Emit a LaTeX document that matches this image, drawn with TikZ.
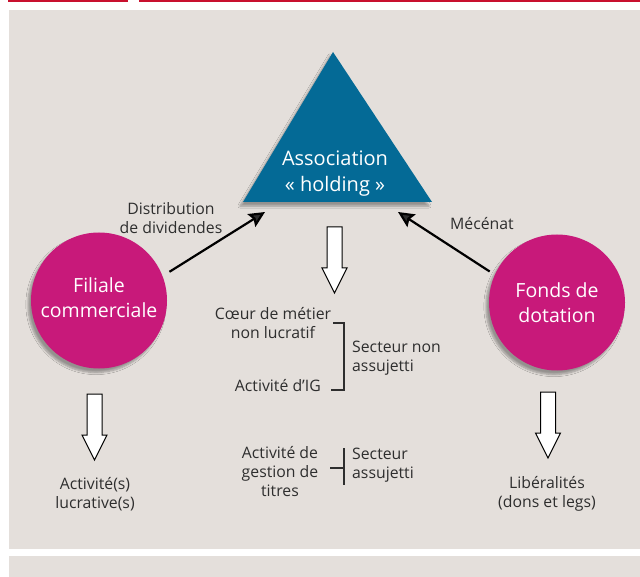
\documentclass[tikz,border=0pt]{standalone}
\usepackage{fontspec}
\setmainfont{Open Sans}
\usetikzlibrary{arrows.meta,shadows.blur}
\definecolor{panel}{HTML}{E4DFDB}
\definecolor{topred}{HTML}{C8102E}
\definecolor{triblue}{HTML}{046A96}
\definecolor{magent}{HTML}{C8197A}
\definecolor{txt}{HTML}{2E2E2E}
\tikzset{
  lbl/.style={font=\fontsize{15.8}{19}\selectfont, text=txt, inner sep=0pt, align=center},
  circ/.style={circle, fill=magent, minimum size=136pt, inner sep=0pt,
    blur shadow={shadow xshift=-3pt, shadow yshift=-4pt, shadow blur steps=6, shadow opacity=35}},
  intext/.style={text=white, align=center, inner sep=0pt, font=\fontsize{19.5}{25}\selectfont},
  conn/.style={line width=2.2pt, -{Stealth[length=16pt,width=15pt,inset=2.5pt]}},
  brk/.style={line width=1.2pt, txt},
  hollow/.style={draw=black, fill=white, line width=1pt, line join=miter}
}
\newcommand{\hollowarrow}[2]{% x, top y
  \draw[hollow] (#1-7.5,#2) -- (#1+7.5,#2) -- (#1+7.5,#2+41) -- (#1+12.5,#2+41) -- (#1,#2+66)
   -- (#1-12.5,#2+41) -- (#1-7.5,#2+41) -- cycle;}
\begin{document}
\begin{tikzpicture}[x=1pt,y=-1pt]
\useasboundingbox (0,0) rectangle (640,577);
\fill[white] (0,0) rectangle (640,577);
\fill[topred] (8,0) rectangle (128,2);
\fill[topred] (139,0) rectangle (640,2);
\fill[panel] (9,10) rectangle (640,549);
\fill[panel] (9,556) rectangle (640,577);
% triangle
\fill[triblue, blur shadow={shadow xshift=-3pt, shadow yshift=-4pt, shadow blur steps=6, shadow opacity=35}]
  (333,52) -- (432,202) -- (243,202) -- cycle;
\node[intext, font=\fontsize{20}{26}\selectfont] (assoc) at (335,174) {Association\\« holding »};
\coordinate (tipL) at (265,212);
\coordinate (tipR) at (398,212);
% circles
\node[circ] (fil) at (99,300.5) {};
\node[intext] (filtxt) at (99,297.5) {Filiale\\commerciale};
\node[circ] (fon) at (557,302.5) {};
\node[intext] (fontxt) at (557,303) {Fonds de\\dotation};
% connectors
\draw[conn, shorten <=8pt] (fil.21) -- (tipL);
\draw[conn, shorten <=6pt] (fon.156) -- (tipR);
\node[lbl] (dist) at (171,218) {Distribution\\de dividendes};
\node[lbl] (mec) at (482,224) {Mécénat};
% hollow arrows
\hollowarrow{334.5}{227}
\hollowarrow{94.5}{394}
\hollowarrow{548}{392}
% bottom labels
\node[lbl] (act) at (95,494) {Activité(s)\\lucrative(s)};
\node[lbl] (lib) at (547,494) {Libéralités\\(dons et legs)};
% middle block
\node[lbl] (coeur) at (273,323.5) {Cœur de métier\\non lucratif};
\node[lbl, anchor=east] (ig) at (321,386) {Activité d’IG};
\node[lbl, anchor=west, align=left] (snon) at (352,358.5) {Secteur non\\assujetti};
\draw[brk] (333,323) -- (344,323) -- (344,390) -- (331,390);
\node[lbl] (gest) at (280,471.5) {Activité de\\gestion de\\titres};
\node[lbl, anchor=west, align=left] (sass) at (352,465.5) {Secteur\\assujetti};
\draw[brk] (344,448) -- (344,485);
\draw[brk] (330,468) -- (344,468);
\end{tikzpicture}
\end{document}
